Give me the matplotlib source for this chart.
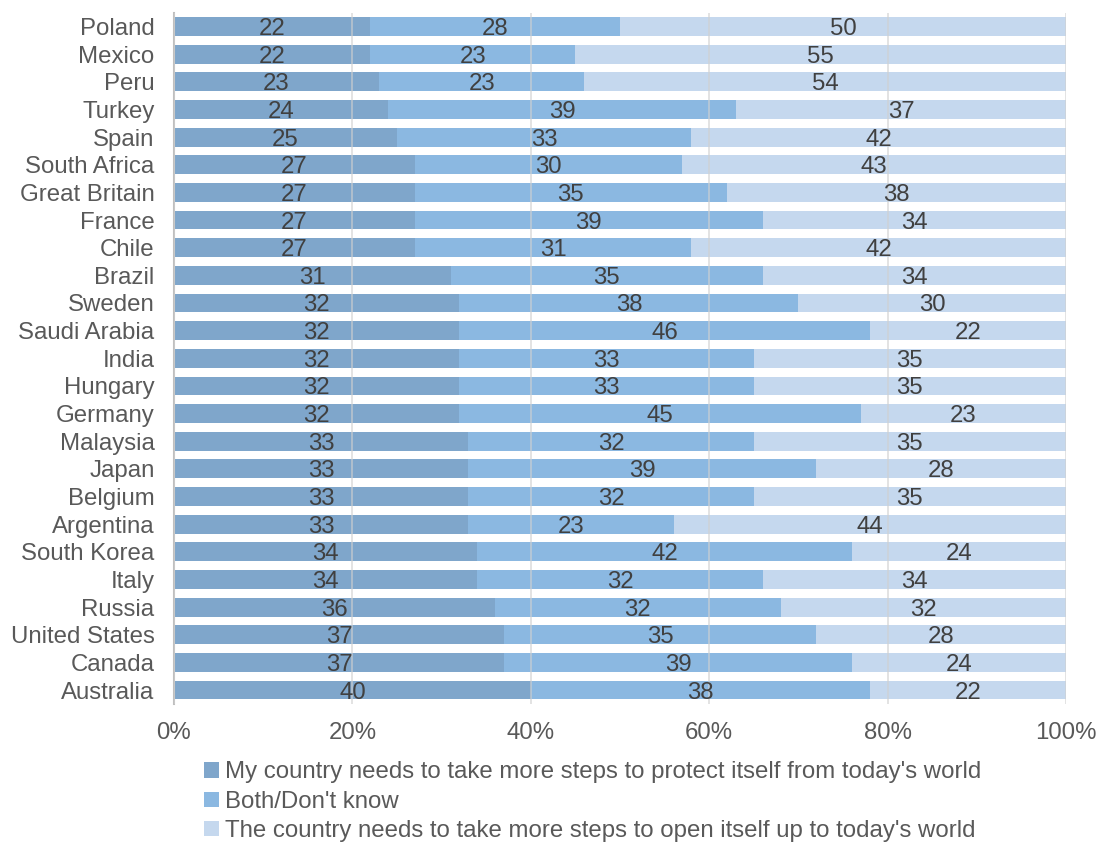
import matplotlib
matplotlib.use("Agg")
import matplotlib.pyplot as plt
from matplotlib.ticker import PercentFormatter

plt.rcParams["font.family"] = ["Liberation Sans", "DejaVu Sans"]

countries = ["Poland", "Mexico", "Peru", "Turkey", "Spain", "South Africa",
             "Great Britain", "France", "Chile", "Brazil", "Sweden",
             "Saudi Arabia", "India", "Hungary", "Germany", "Malaysia", "Japan",
             "Belgium", "Argentina", "South Korea", "Italy", "Russia",
             "United States", "Canada", "Australia"]
protect = [22, 22, 23, 24, 25, 27, 27, 27, 27, 31, 32, 32, 32, 32, 32, 33, 33,
           33, 33, 34, 34, 36, 37, 37, 40]
both = [28, 23, 23, 39, 33, 30, 35, 39, 31, 35, 38, 46, 33, 33, 45, 32, 39,
        32, 23, 42, 32, 32, 35, 39, 38]
open_up = [50, 55, 54, 37, 42, 43, 38, 34, 42, 34, 30, 22, 35, 35, 23, 35, 28,
           35, 44, 24, 34, 32, 28, 24, 22]

series = [
    ("My country needs to take more steps to protect itself from today's world", protect, "#7fa6cb"),
    ("Both/Don't know", both, "#8bb8e1"),
    ("The country needs to take more steps to open itself up to today's world", open_up, "#c5d8ee"),
]

FS = 17.3

fig = plt.figure(figsize=(10.99, 8.46), dpi=100)
ax = fig.add_axes([0.1583, 0.168, 0.8117, 0.817])

y = list(range(len(countries)))
left = [0] * len(countries)
for name, vals, color in series:
    bars = ax.barh(y, vals, left=left, height=0.68, color=color, label=name, zorder=2)
    # value labels centred in each segment
    for rect, v in zip(bars, vals):
        ax.text(rect.get_x() + rect.get_width() / 2, rect.get_y() + rect.get_height() / 2,
                str(v), ha="center", va="center_baseline", fontsize=FS,
                color="#404040", zorder=4)
    left = [a + b for a, b in zip(left, vals)]

ax.set_xlim(0, 100)
ax.set_ylim(len(countries) - 0.5, -0.5)
ax.set_yticks(y)
ax.set_yticklabels(countries)
ax.set_xticks([0, 20, 40, 60, 80, 100])
ax.xaxis.set_major_formatter(PercentFormatter(decimals=0))
ax.tick_params(axis="both", length=0, labelsize=FS, labelcolor="#595959")
ax.tick_params(axis="x", pad=13)
ax.tick_params(axis="y", pad=14)

ax.grid(axis="x", color="#d0d0d0", linewidth=1.2, alpha=0.7, zorder=3)
ax.set_axisbelow(False)
for s in ["top", "right", "bottom"]:
    ax.spines[s].set_visible(False)
ax.spines["left"].set_color("#bfbfbf")
ax.spines["left"].set_linewidth(1.5)

fig.legend(loc="upper left", bbox_to_anchor=(0.186, 0.100), frameon=False,
           fontsize=FS, labelcolor="#595959", handlelength=0.6, handleheight=0.6,
           handletextpad=0.25, labelspacing=0.3, borderaxespad=0, borderpad=0)

fig.savefig("out.png", dpi=100)
